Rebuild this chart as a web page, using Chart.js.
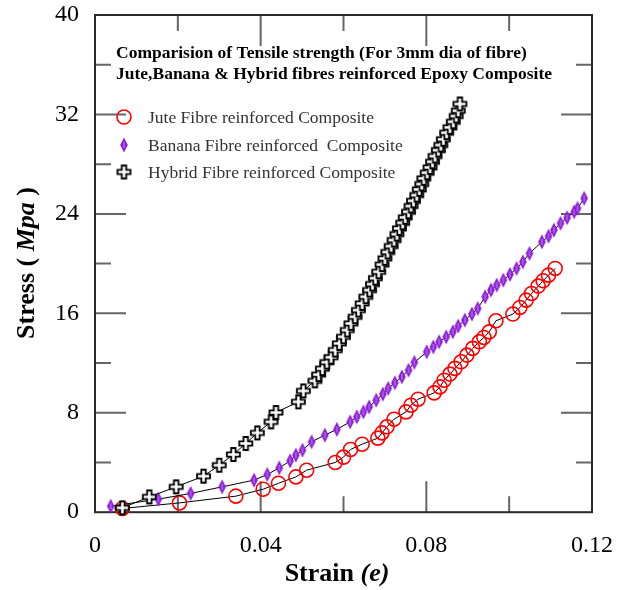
<!DOCTYPE html>
<html>
<head>
<meta charset="utf-8">
<script src="https://cdn.jsdelivr.net/npm/chart.js@4.4.0/dist/chart.umd.min.js"></script>
<style>
  html, body { margin: 0; padding: 0; background: #fff; }
  #wrap { width: 626px; height: 590px; }
</style>
</head>
<body>
<div id="wrap"><canvas id="chart" width="626" height="590"></canvas></div>
<script>
// datos (Strain, Stress en Mpa)
const juteStrain = [0.0066, 0.0204, 0.0340, 0.0406, 0.0443, 0.0485, 0.0511, 0.0580, 0.0600, 0.0617,
  0.0645, 0.0683, 0.0693, 0.0705, 0.0722, 0.0751, 0.0763, 0.0780, 0.0819, 0.0833,
  0.0843, 0.0857, 0.0869, 0.0884, 0.0898, 0.0912, 0.0928, 0.0939, 0.0952, 0.0968,
  0.1009, 0.1026, 0.1041, 0.1054, 0.1070, 0.1082, 0.1095, 0.1111];
const juteStress = [0.30, 0.75, 1.29, 1.85, 2.33, 2.84, 3.38, 4.00, 4.43, 5.05,
  5.47, 5.96, 6.38, 6.87, 7.48, 8.07, 8.61, 9.09, 9.60, 10.08,
  10.62, 11.11, 11.57, 12.10, 12.64, 13.18, 13.71, 14.06, 14.51, 15.40,
  15.94, 16.47, 17.06, 17.60, 18.19, 18.62, 19.07, 19.61];

const bananaStrain = [0.0038, 0.0153, 0.0231, 0.0307, 0.0384, 0.0416, 0.0445, 0.0471, 0.0485, 0.0501,
  0.0523, 0.0555, 0.0584, 0.0616, 0.0632, 0.0648, 0.0662, 0.0679, 0.0695, 0.0708,
  0.0724, 0.0741, 0.0757, 0.0771, 0.0801, 0.0817, 0.0831, 0.0848, 0.0864, 0.0877,
  0.0893, 0.0910, 0.0924, 0.0942, 0.0956, 0.0970, 0.0986, 0.1002, 0.1018, 0.1033,
  0.1049, 0.1079, 0.1095, 0.1108, 0.1124, 0.1140, 0.1157, 0.1165, 0.1181];
const bananaStress = [0.48, 1.05, 1.51, 2.04, 2.58, 3.03, 3.57, 4.13, 4.59, 4.99,
  5.66, 6.20, 6.66, 7.27, 7.67, 8.07, 8.47, 9.01, 9.50, 9.96,
  10.41, 10.89, 11.43, 12.05, 12.90, 13.30, 13.71, 14.11, 14.51, 14.97,
  15.45, 15.94, 16.39, 17.33, 17.87, 18.27, 18.67, 19.13, 19.61, 20.14,
  20.82, 21.75, 22.21, 22.70, 23.24, 23.69, 24.17, 24.44, 25.25];

const hybridStrain = [0.0066, 0.0131, 0.0196, 0.0262, 0.0300, 0.0334, 0.0364, 0.0392, 0.0425, 0.0437,
  0.0491, 0.0503, 0.0531, 0.0540, 0.0549, 0.0560, 0.0570, 0.0580, 0.0590, 0.0600,
  0.0609, 0.0618, 0.0628, 0.0636, 0.0645, 0.0654, 0.0663, 0.0670, 0.0677, 0.0685,
  0.0693, 0.0700, 0.0707, 0.0715, 0.0722, 0.0729, 0.0735, 0.0743, 0.0749, 0.0757,
  0.0763, 0.0769, 0.0777, 0.0783, 0.0789, 0.0794, 0.0802, 0.0809, 0.0815, 0.0821,
  0.0829, 0.0835, 0.0841, 0.0849, 0.0857, 0.0865, 0.0872, 0.0877, 0.0881];
const hybridStress = [0.35, 1.23, 2.04, 2.90, 3.78, 4.64, 5.53, 6.38, 7.27, 8.02,
  8.88, 9.76, 10.57, 11.07, 11.55, 12.07, 12.47, 13.04, 13.58, 14.11,
  14.65, 15.19, 15.72, 16.26, 16.80, 17.33, 17.87, 18.35, 18.83, 19.34,
  19.92, 20.42, 20.93, 21.41, 21.89, 22.37, 22.83, 23.28, 23.72, 24.17,
  24.63, 25.05, 25.51, 25.97, 26.40, 26.86, 27.31, 27.74, 28.19, 28.65,
  29.13, 29.54, 30.00, 30.53, 30.96, 31.41, 31.87, 32.30, 32.84];

const seriesNames = ['Jute Fibre reinforced Composite', 'Banana Fibre reinforced  Composite', 'Hybrid Fibre reinforced Composite'];
const titleLines = ['Comparision of Tensile strength (For 3mm dia of fibre)', 'Jute,Banana & Hybrid fibres reinforced Epoxy Composite'];

// ticks
const xMajor = [0.04, 0.08];
const xMinor = [0.02, 0.06, 0.10];
const yMajor = [8, 16, 24, 32];
const yMinor = [4, 12, 20, 28, 36];

const SERIF = '"Liberation Serif", "Times New Roman", serif';
const PURPLE = '#8c1ed8';

function toPoints(xs, ys) {
    return xs.map((v, i) => ({ x: v, y: ys[i] }));
}

// marcador rombo (banana)
function makeDiamond() {
    const c = document.createElement('canvas');
    c.width = 10; c.height = 18;
    const g = c.getContext('2d');
    g.fillStyle = PURPLE;
    g.beginPath();
    g.moveTo(5, 1.5); g.lineTo(8.8, 9); g.lineTo(5, 16.5); g.lineTo(1.2, 9);
    g.closePath();
    g.fill();
    g.strokeStyle = '#c990f2';
    g.lineWidth = 1;
    g.beginPath();
    g.moveTo(5, 6); g.lineTo(5, 12);
    g.stroke();
    return c;
}

// marcador cruz (hibrido)
function makeCross() {
    const c = document.createElement('canvas');
    c.width = 17; c.height = 17;
    const g = c.getContext('2d');
    const a = 2, b = 6.3, d = 10.7, e = 15;
    g.beginPath();
    g.moveTo(b, a); g.lineTo(d, a); g.lineTo(d, b); g.lineTo(e, b); g.lineTo(e, d); g.lineTo(d, d);
    g.lineTo(d, e); g.lineTo(b, e); g.lineTo(b, d); g.lineTo(a, d); g.lineTo(a, b); g.lineTo(b, b);
    g.closePath();
    g.fillStyle = '#fff';
    g.fill();
    g.strokeStyle = '#000';
    g.lineWidth = 1.8;
    g.stroke();
    return c;
}

const diamondImg = makeDiamond();
const crossImg = makeCross();

// dibuja texto con partes de distinto estilo
function drawParts(ctx, parts, cx, cy) {
    let total = 0;
    parts.forEach(p => { ctx.font = p.font; total += ctx.measureText(p.text).width; });
    let x = cx - total / 2;
    parts.forEach(p => {
        ctx.font = p.font;
        ctx.fillText(p.text, x, cy);
        x += ctx.measureText(p.text).width;
    });
}

const framePlugin = {
    id: 'frame',
    beforeDatasetsDraw(chart) {
        const { ctx, chartArea: a, scales: { x, y } } = chart;
        ctx.save();
        ctx.strokeStyle = '#666';
        ctx.lineWidth = 2;
        ctx.beginPath();
        const xt = xMajor.map(v => [v, 31]).concat(xMinor.map(v => [v, 16]));
        xt.forEach(([v, len]) => {
            const px = x.getPixelForValue(v);
            ctx.moveTo(px, a.bottom); ctx.lineTo(px, a.bottom - len);
            ctx.moveTo(px, a.top); ctx.lineTo(px, a.top + len);
        });
        const yt = yMajor.map(v => [v, 31]).concat(yMinor.map(v => [v, 16]));
        yt.forEach(([v, len]) => {
            const py = y.getPixelForValue(v);
            ctx.moveTo(a.left, py); ctx.lineTo(a.left + len, py);
            ctx.moveTo(a.right, py); ctx.lineTo(a.right - len, py);
        });
        ctx.stroke();
        ctx.strokeStyle = '#2a2a2a';
        ctx.strokeRect(a.left, a.top, a.right - a.left, a.bottom - a.top);
        ctx.restore();
    },
    afterDraw(chart) {
        const { ctx, chartArea: a } = chart;
        ctx.save();
        ctx.fillStyle = '#000';
        ctx.textBaseline = 'alphabetic';
        ctx.textAlign = 'left';
        // titulo dentro del grafico
        ctx.font = 'bold 17.5px ' + SERIF;
        ctx.fillText(titleLines[0], a.left + 21, 58);
        ctx.fillText(titleLines[1], a.left + 21, 79);

        // leyenda
        const ly = [117, 145, 172];
        const mx = a.left + 29;
        ctx.strokeStyle = '#ff0000';
        ctx.lineWidth = 1.6;
        ctx.beginPath();
        ctx.arc(mx, ly[0], 7, 0, Math.PI * 2);
        ctx.stroke();
        ctx.drawImage(diamondImg, mx - 5, ly[1] - 9);
        ctx.drawImage(crossImg, mx - 8.5, ly[2] - 8.5);
        ctx.font = '17.5px ' + SERIF;
        ctx.fillStyle = '#333';
        ctx.textBaseline = 'middle';
        seriesNames.forEach((n, i) => ctx.fillText(n, a.left + 53, ly[i] + 1));

        // titulos de ejes
        ctx.fillStyle = '#000';
        ctx.textAlign = 'left';
        ctx.textBaseline = 'middle';
        drawParts(ctx, [
            { text: 'Strain ', font: 'bold 26px ' + SERIF },
            { text: '(e)', font: 'italic bold 26px ' + SERIF }
        ], 337, 574);
        ctx.translate(27, 263);
        ctx.rotate(-Math.PI / 2);
        drawParts(ctx, [
            { text: 'Stress ( ', font: 'bold 26px ' + SERIF },
            { text: 'Mpa', font: 'italic bold 26px ' + SERIF },
            { text: ' )', font: 'bold 26px ' + SERIF }
        ], 0, 0);
        ctx.restore();
    }
};

const lineStyle = {
    showLine: true,
    borderColor: '#000',
    borderWidth: 1,
    tension: 0,
    clip: false
};

// quitar el relleno automatico de las etiquetas de los ejes
function noPad(scale) {
    scale.paddingTop = 0;
    scale.paddingBottom = 0;
    scale.paddingLeft = 0;
    scale.paddingRight = 0;
}

new Chart(document.getElementById('chart').getContext('2d'), {
    type: 'scatter',
    data: {
        datasets: [
            Object.assign({
                label: seriesNames[0],
                data: toPoints(juteStrain, juteStress),
                pointStyle: 'circle',
                pointRadius: 7,
                pointBorderColor: '#ff0000',
                pointBorderWidth: 1.6,
                pointBackgroundColor: 'rgba(0,0,0,0)',
                order: 3
            }, lineStyle),
            Object.assign({
                label: seriesNames[1],
                data: toPoints(bananaStrain, bananaStress),
                pointStyle: diamondImg,
                order: 2
            }, lineStyle),
            Object.assign({
                label: seriesNames[2],
                data: toPoints(hybridStrain, hybridStress),
                pointStyle: crossImg,
                order: 1
            }, lineStyle)
        ]
    },
    options: {
        responsive: false,
        animation: false,
        events: [],
        layout: { padding: { left: 39, right: 34, top: 15, bottom: 11 } },
        plugins: {
            legend: { display: false },
            tooltip: { enabled: false },
            title: { display: false }
        },
        scales: {
            x: {
                type: 'linear',
                min: 0,
                max: 0.12,
                afterFit: noPad,
                grid: { display: false, drawTicks: false },
                border: { display: false },
                ticks: {
                    stepSize: 0.04,
                    padding: 19,
                    color: '#000',
                    font: { family: SERIF, size: 24 },
                    maxRotation: 0,
                    callback: v => String(+v.toFixed(2))
                }
            },
            y: {
                type: 'linear',
                min: 0,
                max: 40,
                afterFit: noPad,
                grid: { display: false, drawTicks: false },
                border: { display: false },
                ticks: {
                    stepSize: 8,
                    padding: 16,
                    color: '#000',
                    font: { family: SERIF, size: 24 }
                }
            }
        }
    },
    plugins: [framePlugin]
});
</script>
</body>
</html>
